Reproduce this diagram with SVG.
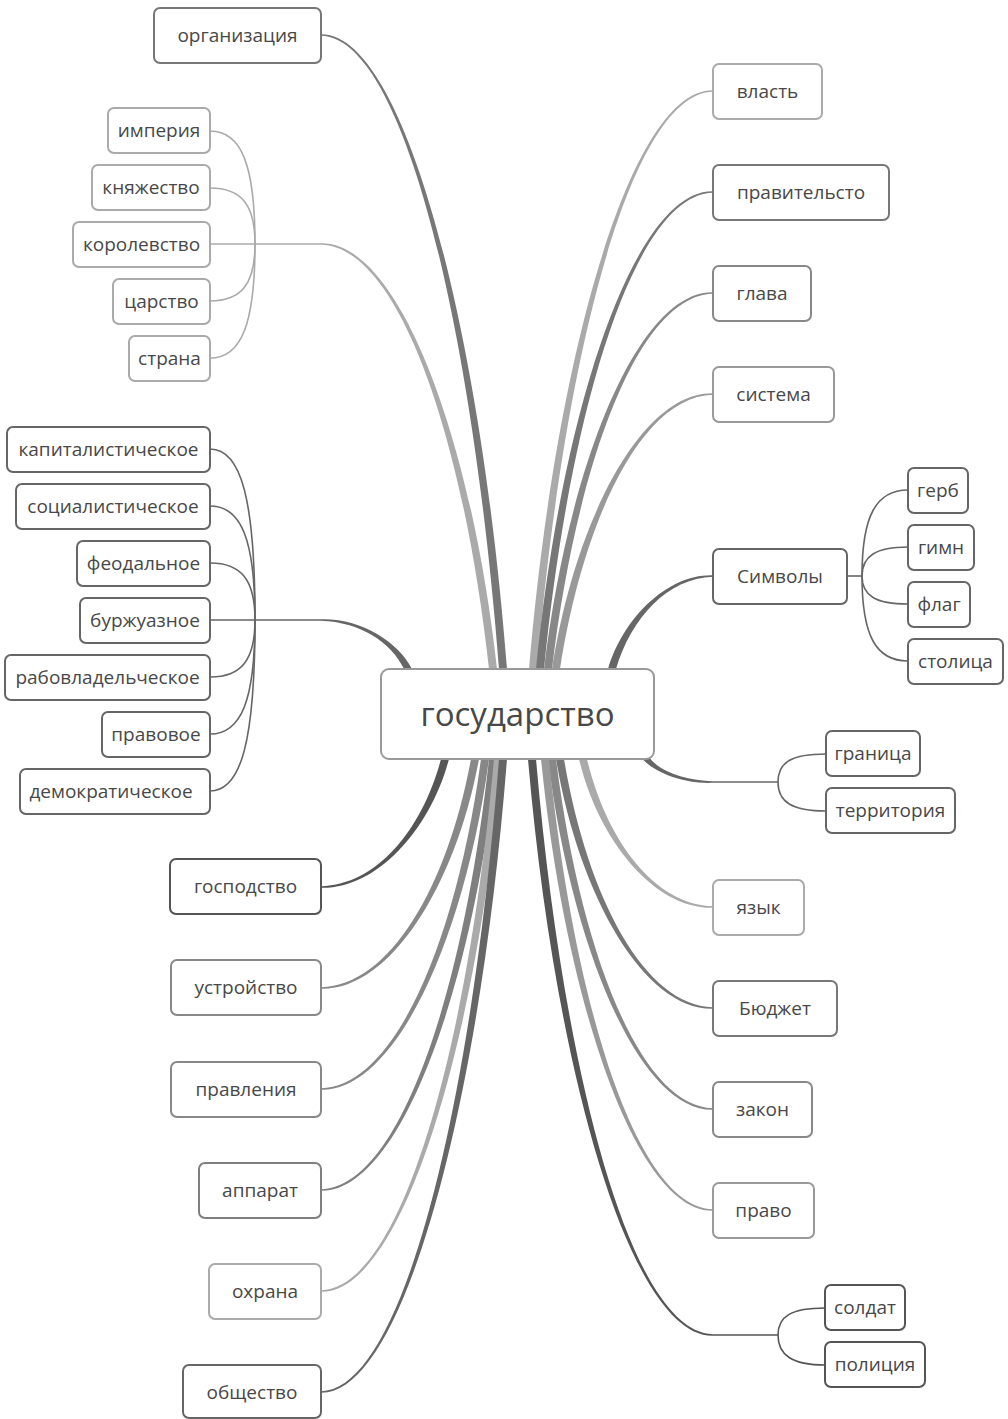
<svg xmlns="http://www.w3.org/2000/svg" width="1008" height="1419" viewBox="0 0 1008 1419">
<style>
text{font-family:"Open Sans","Noto Sans","DejaVu Sans",sans-serif;fill:#484848;text-anchor:middle}
.t{font-size:19px}
.c{font-size:33px}
rect{fill:#fff;stroke-width:2}
.sub{fill:none;stroke-width:1.6}
</style>
<rect x="0" y="0" width="1008" height="1419" style="fill:#fff;stroke:none"/>
<g id="connectors">
<path fill="#777" d="M499,669 C471.7,320.3 402.9,37.2 321,35.8 L321,34.2 C402.9,32.8 479.7,320.3 507,669Z"/>
<path fill="#aaa" d="M489,669 C463.2,435.3 398.4,246.2 321,244.8 L321,243.2 C398.4,241.8 471.2,435.3 497,669Z"/>
<path fill="#666" d="M404,669 C391,642 360,622.2 321,620.8 L321,619.2 C360,617.8 399,642 412,669Z"/>
<path fill="#555" d="M441,759 C422.4,829.4 376.8,884.8 321,886.2 L321,887.8 C376.8,889.2 430.4,829.4 449,759Z"/>
<path fill="#888" d="M471,759 C447.9,885 390.3,985.8 321,987.2 L321,988.8 C390.3,990.2 455.9,885 479,759Z"/>
<path fill="#888" d="M481,759 C456.4,940.5 394.8,1086.8 321,1088.2 L321,1089.8 C394.8,1091.2 464.4,940.5 489,759Z"/>
<path fill="#7f7f7f" d="M489,759 C463.2,996 398.4,1187.8 321,1189.2 L321,1190.8 C398.4,1192.2 471.2,996 497,759Z"/>
<path fill="#aaa" d="M494,759 C467.5,1051.6 400.7,1288.8 321,1290.2 L321,1291.8 C400.7,1293.2 475.5,1051.6 502,759Z"/>
<path fill="#666" d="M499,759 C471.7,1107.2 402.9,1389.8 321,1391.2 L321,1392.8 C402.9,1394.2 479.7,1107.2 507,759Z"/>
<path fill="#aaa" d="M529,669 C556,351.1 632,88.8 713,90.2 L713,91.8 C632,93.2 564,351.1 537,669Z"/>
<path fill="#777" d="M536,669 C562,406.7 635.2,189.8 713,191.2 L713,192.8 C635.2,194.2 570,406.7 544,669Z"/>
<path fill="#888" d="M544,669 C568.8,462.2 638.8,290.8 713,292.2 L713,293.8 C638.8,295.2 576.8,462.2 552,669Z"/>
<path fill="#999" d="M552,669 C575.6,517.8 642.4,391.8 713,393.2 L713,394.8 C642.4,396.2 583.6,517.8 560,669Z"/>
<path fill="#666" d="M608,669 C623.2,617.9 667.6,573.8 713,575.2 L713,576.8 C667.6,578.2 631.2,617.9 616,669Z"/>
<path fill="#666" d="M641,757 C651,771 682,784.2 713,782.8 L713,781.2 C682,779.8 659,771 649,757Z"/>
<path fill="#aaa" d="M579,759 C598.5,840.4 654.5,909.2 713,907.8 L713,906.2 C654.5,904.8 606.5,840.4 587,759Z"/>
<path fill="#777" d="M556,759 C579,896 644.2,1010.2 713,1008.8 L713,1007.2 C644.2,1005.8 587,896 564,759Z"/>
<path fill="#888" d="M548,759 C572.2,951.5 640.6,1111.2 713,1109.8 L713,1108.2 C640.6,1106.8 580.2,951.5 556,759Z"/>
<path fill="#999" d="M541,759 C566.2,1007 637.4,1212.2 713,1210.8 L713,1209.2 C637.4,1207.8 574.2,1007 549,759Z"/>
<path fill="#555" d="M528,759 C555.2,1075.8 631.6,1337.2 713,1335.8 L713,1334.2 C631.6,1332.8 563.2,1075.8 536,759Z"/>
<g class="sub" stroke="#aaa">
<path d="M321,244 L255,244"/>
<path d="M210,131 C241.5,131 255,164.9 255,244"/>
<path d="M210,188 C241.5,188 255,204.8 255,244"/>
<path d="M210,244 L255,244"/>
<path d="M210,301 C241.5,301 255,284.1 255,244"/>
<path d="M210,358 C241.5,358 255,323.8 255,244"/>
</g>
<g class="sub" stroke="#666">
<path d="M321,620 L255,620"/>
<path d="M210,449 C241.5,449 255,500.3 255,620"/>
<path d="M210,506 C241.5,506 255,540.2 255,620"/>
<path d="M210,563 C241.5,563 255,580.1 255,620"/>
<path d="M210,620 L255,620"/>
<path d="M210,677 C241.5,677 255,659.9 255,620"/>
<path d="M210,734 C241.5,734 255,699.8 255,620"/>
<path d="M210,791 C241.5,791 255,739.7 255,620"/>
</g>
<g class="sub" stroke="#666">
<path d="M847,576 L862,576"/>
<path d="M862,576 C862,516 876,490 908,490"/>
<path d="M862,576 C862,556 876,547 908,547"/>
<path d="M862,576 C862,596 876,604 908,604"/>
<path d="M862,576 C862,636 876,661 908,661"/>
</g>
<g class="sub" stroke="#666">
<path d="M713,782 L778,782"/>
<path d="M778,782 C778,762 792,754 826,754"/>
<path d="M778,782 C778,802 792,811 826,811"/>
</g>
<g class="sub" stroke="#555">
<path d="M713,1335 L778,1335"/>
<path d="M778,1335 C778,1316 792,1308 825,1308"/>
<path d="M778,1335 C778,1355 792,1365 825,1365"/>
</g>
</g>
<g id="n-center"><rect x="381" y="669" width="273" height="90" rx="8" stroke="#999" stroke-width="2.5"/><text class="c" x="517.5" y="726">государство</text></g>
<g id="n-org"><rect x="154" y="8" width="167" height="55" rx="6" stroke="#777"/><text class="t" x="237.5" y="42">организация</text></g>
<g id="n-imp"><rect x="108" y="108" width="102" height="45" rx="6" stroke="#aaa"/><text class="t" x="159" y="137">империя</text></g>
<g id="n-kn"><rect x="92" y="165" width="118" height="45" rx="6" stroke="#aaa"/><text class="t" x="151" y="194">княжество</text></g>
<g id="n-kor"><rect x="73" y="222" width="137" height="45" rx="6" stroke="#aaa"/><text class="t" x="141.5" y="251">королевство</text></g>
<g id="n-car"><rect x="113" y="279" width="97" height="45" rx="6" stroke="#aaa"/><text class="t" x="161.5" y="308">царство</text></g>
<g id="n-str"><rect x="129" y="336" width="81" height="45" rx="6" stroke="#aaa"/><text class="t" x="169.5" y="365">страна</text></g>
<g id="n-kap"><rect x="7" y="427" width="203" height="45" rx="6" stroke="#666"/><text class="t" x="108.5" y="456">капиталистическое</text></g>
<g id="n-soc"><rect x="16" y="484" width="194" height="45" rx="6" stroke="#666"/><text class="t" x="113" y="513">социалистическое</text></g>
<g id="n-feo"><rect x="77" y="541" width="133" height="45" rx="6" stroke="#666"/><text class="t" x="143.5" y="570">феодальное</text></g>
<g id="n-bur"><rect x="80" y="598" width="130" height="45" rx="6" stroke="#666"/><text class="t" x="145" y="627">буржуазное</text></g>
<g id="n-rab"><rect x="5" y="655" width="205" height="45" rx="6" stroke="#666"/><text class="t" x="107.5" y="684">рабовладельческое</text></g>
<g id="n-prv"><rect x="102" y="712" width="108" height="45" rx="6" stroke="#666"/><text class="t" x="156" y="741">правовое</text></g>
<g id="n-dem"><rect x="20" y="769" width="190" height="45" rx="6" stroke="#666"/><text class="t" x="111" y="798">демократическое</text></g>
<g id="n-gos"><rect x="170" y="859" width="151" height="55" rx="6" stroke="#555"/><text class="t" x="245.5" y="893">господство</text></g>
<g id="n-ust"><rect x="171" y="960" width="150" height="55" rx="6" stroke="#888"/><text class="t" x="246" y="994">устройство</text></g>
<g id="n-pravl"><rect x="171" y="1062" width="150" height="55" rx="6" stroke="#888"/><text class="t" x="246" y="1096">правления</text></g>
<g id="n-app"><rect x="199" y="1163" width="122" height="55" rx="6" stroke="#7f7f7f"/><text class="t" x="260" y="1197">аппарат</text></g>
<g id="n-ohr"><rect x="209" y="1264" width="112" height="55" rx="6" stroke="#aaa"/><text class="t" x="265" y="1298">охрана</text></g>
<g id="n-obs"><rect x="183" y="1365" width="138" height="53" rx="6" stroke="#666"/><text class="t" x="252" y="1399">общество</text></g>
<g id="n-vl"><rect x="713" y="64" width="109" height="55" rx="6" stroke="#aaa"/><text class="t" x="767.5" y="98">власть</text></g>
<g id="n-prav"><rect x="713" y="165" width="176" height="55" rx="6" stroke="#777"/><text class="t" x="801" y="199">правительсто</text></g>
<g id="n-gl"><rect x="713" y="266" width="98" height="55" rx="6" stroke="#888"/><text class="t" x="762" y="300">глава</text></g>
<g id="n-sis"><rect x="713" y="367" width="121" height="55" rx="6" stroke="#999"/><text class="t" x="773.5" y="401">система</text></g>
<g id="n-sim"><rect x="713" y="549" width="134" height="55" rx="6" stroke="#666"/><text class="t" x="780" y="583">Символы</text></g>
<g id="n-gerb"><rect x="908" y="468" width="60" height="45" rx="6" stroke="#666"/><text class="t" x="938" y="497">герб</text></g>
<g id="n-gimn"><rect x="908" y="525" width="66" height="45" rx="6" stroke="#666"/><text class="t" x="941" y="554">гимн</text></g>
<g id="n-flag"><rect x="908" y="582" width="62" height="45" rx="6" stroke="#666"/><text class="t" x="939" y="611">флаг</text></g>
<g id="n-stol"><rect x="908" y="639" width="95" height="45" rx="6" stroke="#666"/><text class="t" x="955.5" y="668">столица</text></g>
<g id="n-gran"><rect x="826" y="731" width="94" height="45" rx="6" stroke="#666"/><text class="t" x="873" y="760">граница</text></g>
<g id="n-terr"><rect x="826" y="788" width="129" height="45" rx="6" stroke="#666"/><text class="t" x="890.5" y="817">территория</text></g>
<g id="n-yaz"><rect x="713" y="880" width="91" height="55" rx="6" stroke="#aaa"/><text class="t" x="758.5" y="914">язык</text></g>
<g id="n-bud"><rect x="713" y="981" width="124" height="55" rx="6" stroke="#777"/><text class="t" x="775" y="1015">Бюджет</text></g>
<g id="n-zak"><rect x="713" y="1082" width="99" height="55" rx="6" stroke="#888"/><text class="t" x="762.5" y="1116">закон</text></g>
<g id="n-pravo"><rect x="713" y="1183" width="101" height="55" rx="6" stroke="#999"/><text class="t" x="763.5" y="1217">право</text></g>
<g id="n-sold"><rect x="825" y="1285" width="80" height="45" rx="6" stroke="#555"/><text class="t" x="865" y="1314">солдат</text></g>
<g id="n-pol"><rect x="825" y="1342" width="100" height="45" rx="6" stroke="#555"/><text class="t" x="875" y="1371">полиция</text></g>
</svg>
